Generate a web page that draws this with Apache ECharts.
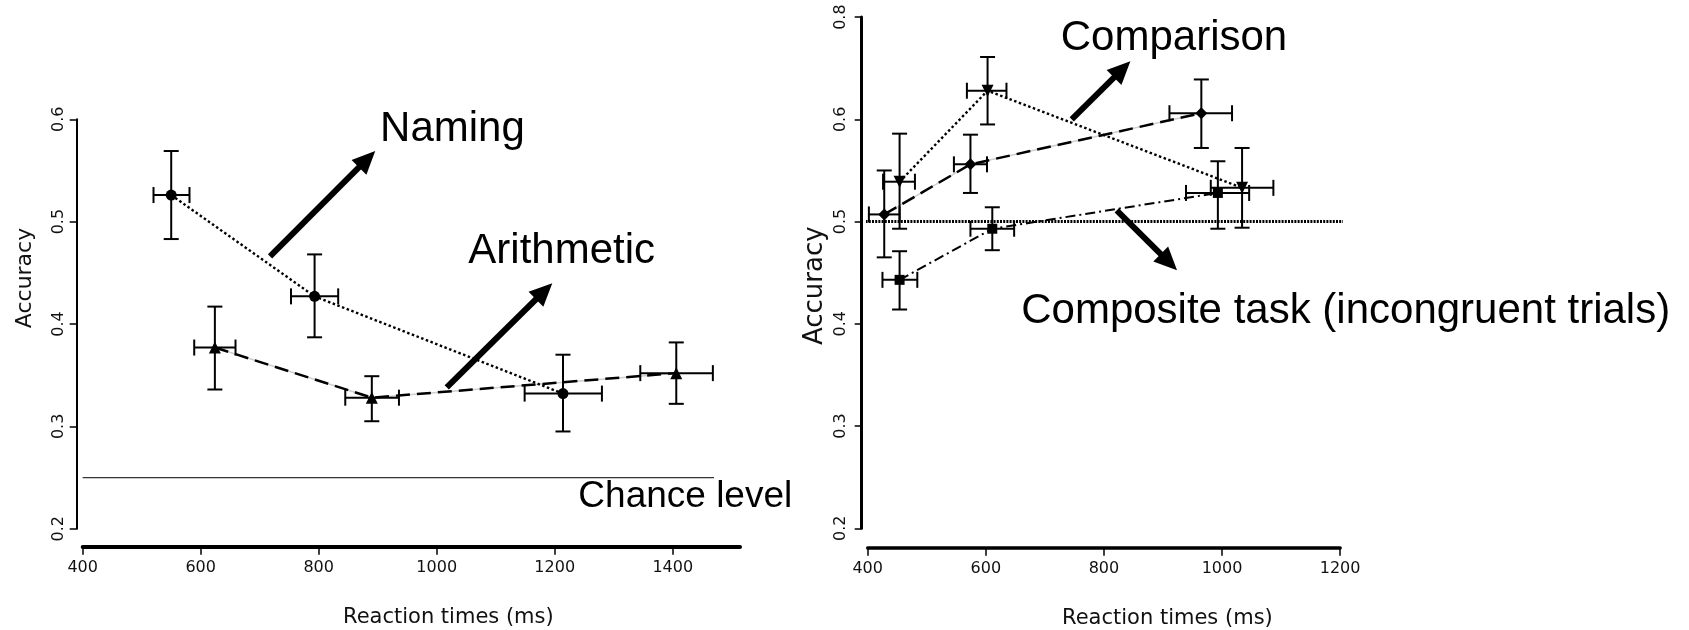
<!DOCTYPE html>
<html><head><meta charset="utf-8">
<script src="https://cdn.jsdelivr.net/npm/echarts@6/dist/echarts.min.js"></script>
<style>html,body{margin:0;padding:0;background:#fff}#c{width:1689px;height:630px}</style>
</head><body><div id="c"></div>
<script>
// ---------- tick labels ----------
const xTicksLeft = [400, 600, 800, 1000, 1200, 1400];
const yTickLabelsLeft = ['0.2', '0.3', '0.4', '0.5', '0.6'];
const xTicksRight = [400, 600, 800, 1000, 1200];
const yTickLabelsRight = ['0.2', '0.3', '0.4', '0.5', '0.6', '0.8'];

// ---------- left panel data ----------
const namingX   = [550, 793, 1214];
const namingY   = [0.526, 0.427, 0.332];
const namingXLo = [520, 753, 1149];
const namingXHi = [581, 833, 1280];
const namingYLo = [0.483, 0.387, 0.295];
const namingYHi = [0.569, 0.468, 0.370];

const arithX   = [624, 890, 1406];
const arithY   = [0.377, 0.328, 0.352];
const arithXLo = [589, 845, 1345];
const arithXHi = [659, 936, 1468];
const arithYLo = [0.336, 0.305, 0.322];
const arithYHi = [0.417, 0.349, 0.382];

const chanceLeft = 0.25;
const chanceLeftSpan = [400, 1470];

// ---------- right panel data ----------
const compX   = [454, 603, 1034];
const compY   = [0.539, 0.628, 0.533];
const compXLo = [426, 568, 981];
const compXHi = [480, 635, 1087];
const compYLo = [0.493, 0.595, 0.494];
const compYHi = [0.586, 0.661, 0.572];

const diamX   = [428, 574, 965];
const diamY   = [0.507, 0.556, 0.606];
const diamXLo = [402, 546, 911];
const diamXHi = [454, 602, 1017];
const diamYLo = [0.465, 0.528, 0.572];
const diamYHi = [0.550, 0.585, 0.639];

const sqX   = [454, 611, 993];
const sqY   = [0.443, 0.493, 0.528];
const sqXLo = [425, 574, 939];
const sqXHi = [484, 648, 1046];
const sqYLo = [0.414, 0.472, 0.493];
const sqYHi = [0.471, 0.514, 0.559];

const chanceRight = 0.5;
const chanceRightSpan = [391, 1214];

// ---------- helpers ----------
const pts = (xs, ys) => xs.map((x, i) => [x, ys[i]]);
const errData = (xs, ys, xl, xh, yl, yh) => xs.map((x, i) => [x, ys[i], xl[i], xh[i], yl[i], yh[i]]);

function errRender(params, api) {
  const x = api.value(0), y = api.value(1);
  const c = api.coord([x, y]);
  const xl = api.coord([api.value(2), y])[0];
  const xh = api.coord([api.value(3), y])[0];
  const yl = api.coord([x, api.value(4)])[1];
  const yh = api.coord([x, api.value(5)])[1];
  const cw = 7.5, ch = 8;
  const st = { stroke: '#000', lineWidth: 2, fill: null };
  const L = (x1, y1, x2, y2) => ({ type: 'line', shape: { x1, y1, x2, y2 }, style: st });
  return { type: 'group', children: [
    L(xl, c[1], xh, c[1]),
    L(xl, c[1] - ch, xl, c[1] + ch),
    L(xh, c[1] - ch, xh, c[1] + ch),
    L(c[0], yl, c[0], yh),
    L(c[0] - cw, yl, c[0] + cw, yl),
    L(c[0] - cw, yh, c[0] + cw, yh)
  ]};
}

function errSeries(idx, data) {
  return { type: 'custom', xAxisIndex: idx, yAxisIndex: idx, renderItem: errRender,
    data: data, encode: { x: 0, y: 1 }, clip: false, silent: true, z: 3 };
}
function underlay(idx, data) {
  return { type: 'line', xAxisIndex: idx, yAxisIndex: idx, data: data, symbol: 'none',
    lineStyle: { color: '#cfcfcf', width: 1.5, type: 'solid' }, silent: true, z: 1 };
}
function styledLine(idx, name, data, dash, width, symbol, size, rot) {
  return { type: 'line', name, xAxisIndex: idx, yAxisIndex: idx, data: data,
    symbol: symbol, symbolSize: size, symbolRotate: rot || 0, showSymbol: true,
    itemStyle: { color: '#000' },
    lineStyle: { color: '#000', width: width, type: dash }, z: 4, silent: true };
}
function hLine(idx, level, span, style) {
  return { type: 'line', xAxisIndex: idx, yAxisIndex: idx, data: span.map(x => [x, level]),
    symbol: 'none', clip: false, lineStyle: style, silent: true, z: 2 };
}

const axisFont = 'DejaVu Sans';
function xAxisCfg(idx, max, ticks, offset, lw, padLeft) {
  return { type: 'value', gridIndex: idx, min: 400, max: max, offset: offset,
    axisLine: { show: true, onZero: false, lineStyle: { color: '#000', width: lw } },
    axisTick: { show: true, length: 8, customValues: ticks, lineStyle: { color: '#000', width: 1.5 } },
    axisLabel: { customValues: ticks, fontSize: 16, color: '#111', fontFamily: axisFont, margin: 13,
      formatter: v => String(v) },
    splitLine: { show: false },
    name: 'Reaction times (ms)', nameLocation: 'middle', nameGap: 60,
    nameTextStyle: { fontSize: 21, color: '#111', fontFamily: axisFont, padding: [0, 0, 0, padLeft] } };
}
function yAxisCfg(idx, max, labels, lw, margin, nameSize, nameGap, namePad) {
  return { type: 'value', gridIndex: idx, min: 0.2, max: max, interval: 0.1, offset: 6,
    axisLine: { show: true, onZero: false, lineStyle: { color: '#000', width: lw } },
    axisTick: { show: true, length: 7, lineStyle: { color: '#000', width: 1.5 } },
    axisLabel: { rotate: 90, fontSize: 16, color: '#111', fontFamily: axisFont, margin: margin,
      formatter: (v, i) => labels[i] },
    splitLine: { show: false },
    name: 'Accuracy', nameLocation: 'middle', nameGap: nameGap, nameRotate: 90,
    nameTextStyle: { fontSize: nameSize, color: '#111', fontFamily: axisFont, padding: namePad } };
}

const arrowStyle = { color: '#000', width: 6, type: 'solid' };
function arrow(from, to) {
  return [{ coord: from, symbol: 'none', lineStyle: arrowStyle },
          { coord: to, symbol: 'triangle', symbolSize: [21, 23] }];
}

const chart = echarts.init(document.getElementById('c'), null, { renderer: 'canvas' });
const option = {
  animation: false,
  backgroundColor: '#fff',
  grid: [
    { left: 82.7, top: 119.3, width: 657.3, height: 409.4, containLabel: false, outerBoundsMode: 'none' },
    { left: 867.7, top: 17.1, width: 472.4, height: 511.2, containLabel: false, outerBoundsMode: 'none' }
  ],
  xAxis: [
    xAxisCfg(0, 1514, xTicksLeft, 18, 4, 74),
    xAxisCfg(1, 1200, xTicksRight, 19.4, 3.5, 127)
  ],
  yAxis: [
    yAxisCfg(0, 0.6, yTickLabelsLeft, 2, 10, 22, 40, [0, 0, 0, 92]),
    yAxisCfg(1, 0.7, yTickLabelsRight, 3, 13, 26, 33, [0, 26, 0, 0])
  ],
  series: [
    // left panel
    underlay(0, pts(arithX, arithY)),
    hLine(0, chanceLeft, chanceLeftSpan, { color: '#333', width: 1.2, type: 'solid' }),
    Object.assign(styledLine(0, 'Naming', pts(namingX, namingY), [2.5, 2.5], 2.4, 'circle', 11), {
      markLine: { silent: true, symbol: ['none', 'none'], label: { show: false }, animation: false,
        data: [
          arrow([717.5, 0.466], [882, 0.561]),
          arrow([1017, 0.338], [1182, 0.432])
        ] }
    }),
    styledLine(0, 'Arithmetic', pts(arithX, arithY), [14, 7], 2.5, 'triangle', 12),
    errSeries(0, errData(namingX, namingY, namingXLo, namingXHi, namingYLo, namingYHi)),
    errSeries(0, errData(arithX, arithY, arithXLo, arithXHi, arithYLo, arithYHi)),
    // right panel
    underlay(1, pts(diamX, diamY)),
    hLine(1, chanceRight, chanceRightSpan, { color: '#000', width: 3, type: [2, 1.2] }),
    Object.assign(styledLine(1, 'Comparison', pts(compX, compY), [2.5, 2.5], 2.4, 'triangle', 12, 180), {
      markLine: { silent: true, symbol: ['none', 'none'], label: { show: false }, animation: false,
        data: [
          arrow([745.5, 0.600], [831, 0.6488]),
          arrow([821.7, 0.511], [910, 0.4603])
        ] }
    }),
    styledLine(1, 'Diamonds', pts(diamX, diamY), [14, 7], 2.5, 'diamond', 12),
    styledLine(1, 'Composite task (incongruent trials)', pts(sqX, sqY), [10, 4, 2, 4], 2, 'rect', 10),
    errSeries(1, errData(compX, compY, compXLo, compXHi, compYLo, compYHi)),
    errSeries(1, errData(diamX, diamY, diamXLo, diamXHi, diamYLo, diamYHi)),
    errSeries(1, errData(sqX, sqY, sqXLo, sqXHi, sqYLo, sqYHi))
  ]
};
chart.setOption(option);

// annotation texts anchored in data space
const notes = [
  { grid: 0, at: [904, 0.590], text: 'Naming', size: 42 },
  { grid: 0, at: [1053.6, 0.471], text: 'Arithmetic', size: 42 },
  { grid: 0, at: [1240, 0.231], text: 'Chance level', size: 37 },
  { grid: 1, at: [727, 0.679], text: 'Comparison', size: 42 },
  { grid: 1, at: [660, 0.412], text: 'Composite task (incongruent trials)', size: 42 }
];
chart.setOption({
  graphic: notes.map(n => {
    const p = chart.convertToPixel({ gridIndex: n.grid }, n.at);
    return { type: 'text', x: p[0], y: p[1], silent: true, z: 10,
      style: { text: n.text, fill: '#000', font: n.size + 'px "Liberation Sans", Arial, sans-serif',
        align: 'left', verticalAlign: 'middle' } };
  })
});
</script>
</body></html>
